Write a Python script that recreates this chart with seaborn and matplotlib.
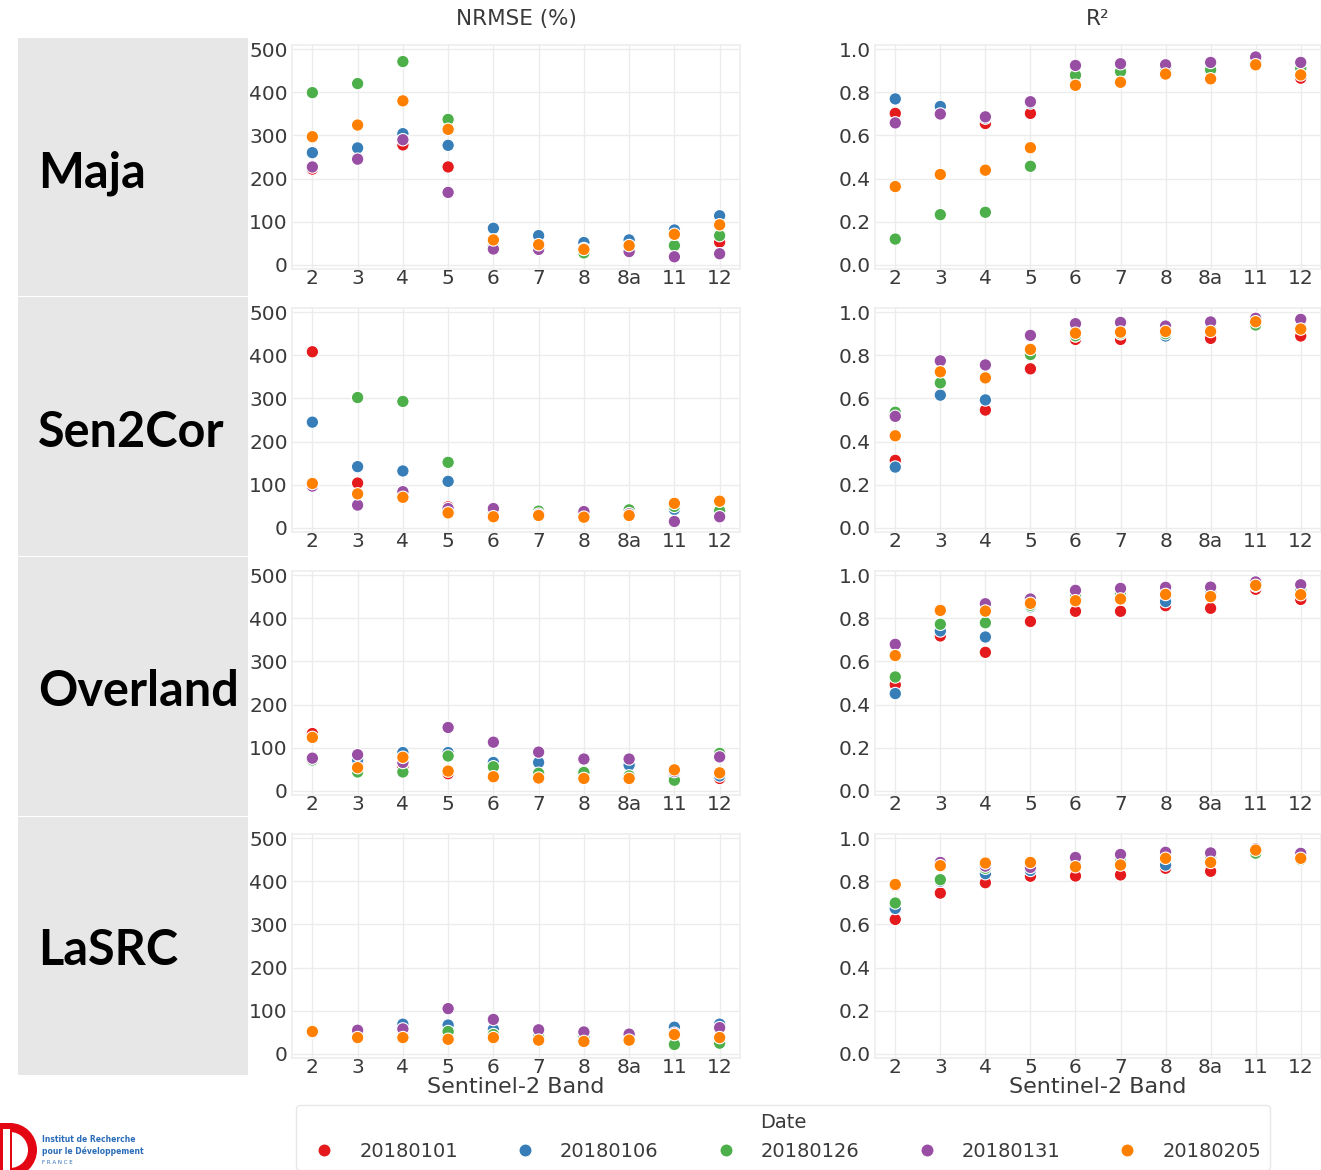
import numpy as np
import pandas as pd
import matplotlib
matplotlib.use("Agg")
import matplotlib.pyplot as plt
import matplotlib.transforms as mtransforms
from matplotlib.patches import Rectangle, Wedge
import seaborn as sns

# ---------------- data ----------------
BANDS = ['2', '3', '4', '5', '6', '7', '8', '8a', '11', '12']
DATES = ['20180101', '20180106', '20180126', '20180131', '20180205']
COLORS = ['#e41a1c', '#377eb8', '#4daf4a', '#984ea3', '#ff7f00']
PROCESSORS = ['Maja', 'Sen2Cor', 'Overland', 'LaSRC']

# rows follow DATES order, columns follow BANDS order
maja_nrmse = [
    [222, 248, 278, 227, 50, 42, 40, 40, 75, 53],
    [260, 271, 304, 277, 85, 68, 52, 58, 81, 114],
    [399, 420, 471, 337, 45, 40, 28, 38, 45, 68],
    [227, 245, 290, 168, 37, 36, 38, 31, 19, 26],
    [297, 324, 380, 314, 58, 47, 36, 45, 71, 93],
]
maja_r2 = [
    [0.702, 0.700, 0.655, 0.702, 0.870, 0.890, 0.900, 0.900, 0.940, 0.865],
    [0.769, 0.734, 0.680, 0.750, 0.880, 0.890, 0.910, 0.900, 0.945, 0.910],
    [0.120, 0.233, 0.244, 0.457, 0.879, 0.896, 0.910, 0.904, 0.945, 0.910],
    [0.658, 0.699, 0.686, 0.756, 0.924, 0.932, 0.927, 0.938, 0.963, 0.938],
    [0.363, 0.419, 0.439, 0.543, 0.832, 0.846, 0.884, 0.862, 0.927, 0.880],
]
sen2cor_nrmse = [
    [408, 104, 80, 49, 35, 32, 30, 33, 50, 35],
    [245, 142, 132, 108, 35, 32, 30, 33, 43, 35],
    [100, 302, 293, 152, 35, 39, 30, 42, 50, 40],
    [97, 53, 84, 45, 45, 32, 38, 33, 15, 26],
    [103, 79, 71, 35, 26, 29, 25, 29, 57, 62],
]
sen2cor_r2 = [
    [0.313, 0.620, 0.546, 0.737, 0.873, 0.873, 0.900, 0.878, 0.971, 0.889],
    [0.282, 0.615, 0.593, 0.810, 0.890, 0.900, 0.889, 0.920, 0.950, 0.930],
    [0.536, 0.672, 0.700, 0.803, 0.890, 0.900, 0.900, 0.920, 0.940, 0.930],
    [0.517, 0.774, 0.755, 0.892, 0.946, 0.952, 0.935, 0.954, 0.971, 0.966],
    [0.427, 0.723, 0.695, 0.827, 0.902, 0.907, 0.910, 0.910, 0.955, 0.921],
]
overland_nrmse = [
    [133, 60, 55, 40, 35, 35, 35, 35, 40, 29],
    [70, 72, 89, 89, 66, 66, 35, 60, 35, 35],
    [72, 44, 44, 81, 56, 41, 43, 35, 25, 87],
    [76, 84, 66, 147, 113, 90, 74, 74, 45, 79],
    [124, 54, 78, 46, 33, 30, 29, 29, 49, 42],
]
overland_r2 = [
    [0.492, 0.718, 0.642, 0.785, 0.832, 0.832, 0.858, 0.846, 0.934, 0.887],
    [0.451, 0.741, 0.713, 0.853, 0.900, 0.910, 0.877, 0.920, 0.950, 0.930],
    [0.528, 0.772, 0.779, 0.860, 0.900, 0.910, 0.930, 0.920, 0.950, 0.930],
    [0.679, 0.840, 0.867, 0.889, 0.929, 0.938, 0.943, 0.944, 0.968, 0.955],
    [0.627, 0.836, 0.833, 0.869, 0.881, 0.889, 0.910, 0.900, 0.952, 0.909],
]
lasrc_nrmse = [
    [51, 45, 45, 40, 40, 40, 38, 38, 55, 30],
    [50, 48, 69, 67, 57, 40, 38, 38, 62, 69],
    [52, 42, 40, 52, 45, 40, 38, 38, 22, 25],
    [50, 55, 58, 105, 80, 56, 51, 46, 48, 61],
    [52, 38, 38, 34, 38, 32, 29, 32, 45, 38],
]
lasrc_r2 = [
    [0.623, 0.745, 0.793, 0.823, 0.824, 0.829, 0.860, 0.846, 0.940, 0.900],
    [0.674, 0.800, 0.835, 0.850, 0.880, 0.890, 0.875, 0.910, 0.940, 0.920],
    [0.699, 0.807, 0.860, 0.870, 0.880, 0.890, 0.910, 0.910, 0.930, 0.900],
    [0.780, 0.887, 0.870, 0.864, 0.910, 0.924, 0.934, 0.931, 0.950, 0.929],
    [0.785, 0.872, 0.884, 0.887, 0.867, 0.875, 0.906, 0.887, 0.944, 0.906],
]

NRMSE = [maja_nrmse, sen2cor_nrmse, overland_nrmse, lasrc_nrmse]
R2 = [maja_r2, sen2cor_r2, overland_r2, lasrc_r2]


def long_df(values):
    rows = []
    for d, vals in zip(DATES, values):
        for b, v in zip(BANDS, vals):
            rows.append({'Band': b, 'Date': d, 'value': v})
    return pd.DataFrame(rows)


# ---------------- figure ----------------
sns.set_theme(style='whitegrid')
plt.rcParams['font.family'] = ['DejaVu Sans']

W, H = 1321, 1170
fig = plt.figure(figsize=(W / 100, H / 100), dpi=100)
px = mtransforms.Affine2D().scale(1 / W, 1 / H) + fig.transFigure


def ax_at(left, top, width, height):
    return fig.add_axes([left / W, 1 - (top + height) / H, width / W, height / H])


# grey label column
cells = [(38, 296), (297, 556), (557, 816), (817, 1075)]
for (t, b) in cells:
    fig.patches.append(Rectangle((18, H - b), 230, b - t, transform=px,
                                 facecolor='#e7e7e7', edgecolor='none', zorder=0))
label_baselines = [187, 447, 706, 965]
for name, yb in zip(PROCESSORS, label_baselines):
    fig.text(38 / W, 1 - yb / H, name, fontsize=35, fontweight='bold',
             family=['Lato', 'DejaVu Sans'], color='black', ha='left', va='baseline')

row_tops = [44.7, 307.7, 570.7, 833.7]
row_h = 224.6
TXT = '#3a3a3a'
handles = labels = None

for r in range(4):
    for c, (data, lim, ticks) in enumerate([
            (NRMSE[r], (-10, 510), [0, 100, 200, 300, 400, 500]),
            (R2[r], (-0.02, 1.02), [0.0, 0.2, 0.4, 0.6, 0.8, 1.0])]):
        if c == 0:
            ax = ax_at(292, row_tops[r], 448, row_h)
        else:
            ax = ax_at(875, row_tops[r], 446, row_h)
        df = long_df(data)
        want_leg = (r == 0 and c == 0)
        sns.scatterplot(data=df, x='Band', y='value', hue='Date', hue_order=DATES,
                        palette=COLORS, s=80, edgecolor='white', linewidth=0.8,
                        ax=ax, legend=want_leg, zorder=3)
        if want_leg:
            handles, labels = ax.get_legend_handles_labels()
            ax.get_legend().remove()
        ax.set_xlim(-0.45, 9.45)
        ax.set_ylim(*lim)
        ax.set_yticks(ticks)
        if c == 1:
            ax.set_yticklabels([f'{t:.1f}' for t in ticks])
        ax.tick_params(labelsize=14.5, colors=TXT, length=0)
        ax.tick_params(axis='y', pad=3)
        ax.tick_params(axis='x', pad=0)
        ax.grid(True, color='#ececec', linewidth=1.0)
        for sp in ax.spines.values():
            sp.set_color('#eeeeee')
        ax.set_ylabel('')
        if r == 3:
            ax.set_xlabel('Sentinel-2 Band', fontsize=16, color=TXT, labelpad=0)
        else:
            ax.set_xlabel('')
        if r == 0:
            ax.set_title('NRMSE (%)' if c == 0 else 'R²', fontsize=15.5,
                         color=TXT, pad=14)

# legend
leg = fig.legend(handles, labels, title='Date', ncol=5, loc='upper center',
                 bbox_to_anchor=(783 / W, 1 - 1095 / H), fontsize=14,
                 title_fontsize=14, frameon=True, handletextpad=0.8,
                 columnspacing=2.45, markerscale=1.05, borderpad=0.45)
leg.get_frame().set_edgecolor('#e2e2e2')
leg.get_frame().set_facecolor('white')
for t in leg.get_texts():
    t.set_color(TXT)
leg.get_title().set_color(TXT)

# IRD logo (approximation)
fig.patches.append(Wedge((10, H - 1150), 27, -90, 90, width=9, transform=px,
                         facecolor='#e30613', edgecolor='none'))
fig.patches.append(Rectangle((0, H - 1177), 12, 54, transform=px,
                             facecolor='#e30613', edgecolor='none'))
fig.patches.append(Rectangle((0, H - 1171), 10, 42, transform=px,
                             facecolor='white', edgecolor='none'))
fig.patches.append(Rectangle((0, H - 1177), 3, 54, transform=px,
                             facecolor='#e30613', edgecolor='none'))
fig.text(42 / W, 1 - 1139 / H, 'Institut de Recherche', fontsize=5.5,
         fontweight='bold', color='#2b6cb8', ha='left', va='center')
fig.text(42 / W, 1 - 1151 / H, 'pour le Développement', fontsize=5.5,
         fontweight='bold', color='#2b6cb8', ha='left', va='center')
fig.text(42 / W, 1 - 1163 / H, 'F R A N C E', fontsize=4, color='#2b6cb8',
         ha='left', va='center')

fig.savefig('out.png', dpi=100)
